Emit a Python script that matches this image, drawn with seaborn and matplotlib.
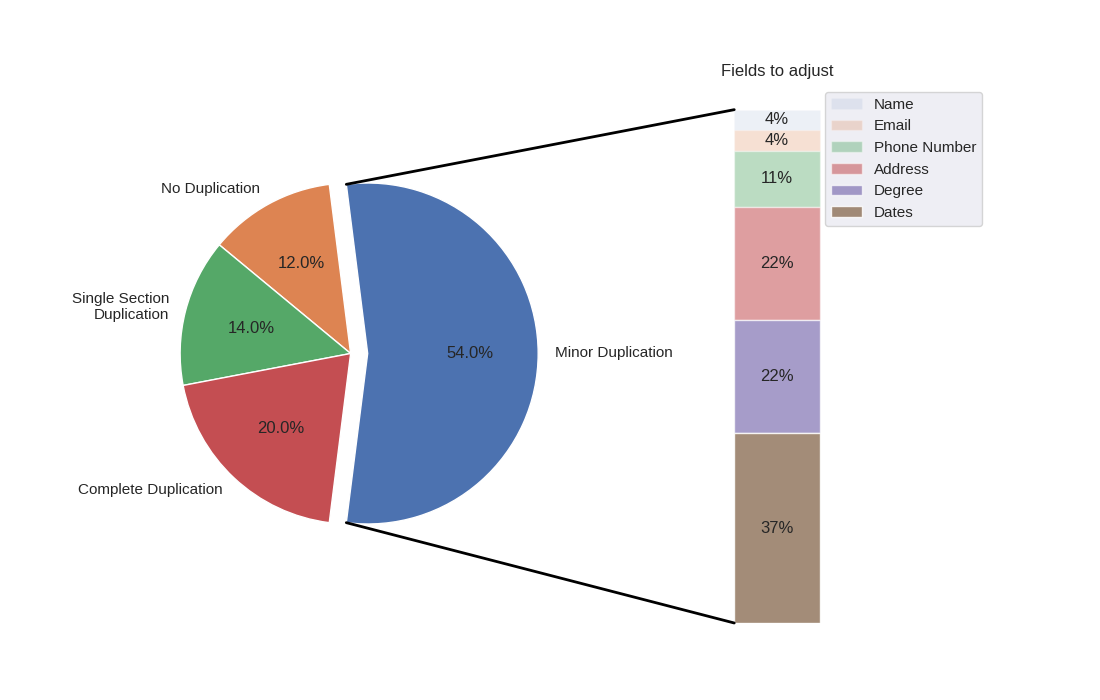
import numpy as np
import matplotlib.pyplot as plt
import seaborn as sns
from matplotlib.patches import ConnectionPatch

sns.set_theme()
plt.rcParams['font.family'] = ['Liberation Sans', 'DejaVu Sans']

# pie data
overall_ratios = [.54, .12, .14, .20]
labels = ['Minor Duplication', 'No Duplication', 'Single Section\nDuplication', 'Complete Duplication']
explode = [0.1, 0, 0, 0]

# bar data
field_ratios = [.04, .04, .11, .22, .22, .37]
field_labels = ['Name', 'Email', 'Phone Number', 'Address', 'Degree', 'Dates']

fig, (ax1, ax2) = plt.subplots(1, 2, figsize=(11, 7), dpi=100)
fig.subplots_adjust(wspace=0)

# pie chart
angle = -180 * overall_ratios[0]
wedges, *_ = ax1.pie(overall_ratios, autopct='%1.1f%%', startangle=angle,
                     labels=labels, explode=explode)

# bar chart
bottom = 1
width = .2
colors = sns.color_palette()

for j, (height, label) in enumerate(zip(field_ratios, field_labels)):
    bottom -= height
    bc = ax2.bar(0, height, width, bottom=bottom, color=colors[j], label=label,
                 alpha=0.1 + 0.15 * j)
    ax2.bar_label(bc, labels=[f"{height:.0%}"], label_type='center')

ax2.set_title('Fields to adjust')
ax2.legend(loc='upper right')
ax2.axis('off')
ax2.set_xlim(-2.5 * width, 2.5 * width)

# connecting lines
theta1, theta2 = wedges[0].theta1, wedges[0].theta2
center, r = wedges[0].center, wedges[0].r
bar_height = sum(field_ratios)

x = r * np.cos(np.pi / 180 * theta2) + center[0]
y = r * np.sin(np.pi / 180 * theta2) + center[1]
con = ConnectionPatch(xyA=(-width / 2, bar_height), coordsA=ax2.transData,
                      xyB=(x, y), coordsB=ax1.transData)
con.set_color([0, 0, 0])
con.set_linewidth(2)
ax2.add_artist(con)

x = r * np.cos(np.pi / 180 * theta1) + center[0]
y = r * np.sin(np.pi / 180 * theta1) + center[1]
con = ConnectionPatch(xyA=(-width / 2, 0), coordsA=ax2.transData,
                      xyB=(x, y), coordsB=ax1.transData)
con.set_color([0, 0, 0])
con.set_linewidth(2)
ax2.add_artist(con)

plt.savefig('out.png')
